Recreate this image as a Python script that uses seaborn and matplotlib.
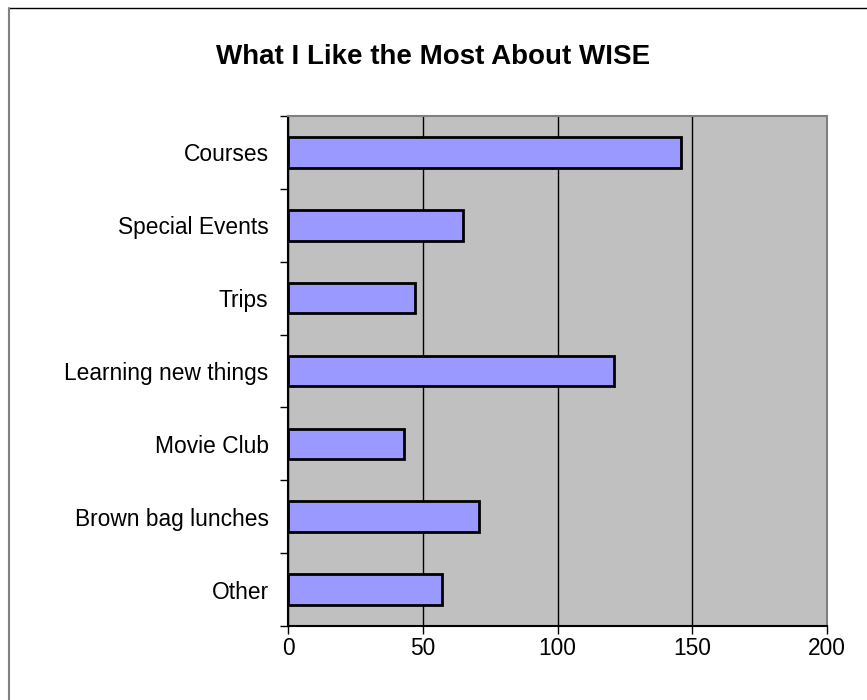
import matplotlib
matplotlib.use("Agg")
import matplotlib.pyplot as plt
import seaborn as sns
import pandas as pd
from matplotlib.lines import Line2D

categories = ["Courses", "Special Events", "Trips", "Learning new things",
              "Movie Club", "Brown bag lunches", "Other"]
counts = [146, 65, 47, 121, 43, 71, 57]
x_ticks = [0, 50, 100, 150, 200]

sns.set_style("white")
plt.rcParams['font.family'] = ['Liberation Sans', 'DejaVu Sans']
plt.rcParams['text.color'] = 'black'
plt.rcParams['xtick.color'] = 'black'
plt.rcParams['ytick.color'] = 'black'
plt.rcParams['axes.labelcolor'] = 'black'

df = pd.DataFrame({"category": categories, "count": counts})

fig = plt.figure(figsize=(8.67, 7), dpi=100)
ax = fig.add_axes([288 / 867, 1 - 626 / 700, (827 - 288) / 867, (626 - 116) / 700])

sns.barplot(data=df, x="count", y="category", orient="h", color="#9999FF",
            saturation=1, width=0.42, edgecolor="black", linewidth=2, ax=ax, zorder=3)

ax.set_facecolor("#C0C0C0")
ax.set_xlim(0, 200)
ax.set_ylim(len(categories) - 0.5, -0.5)
ax.set_xticks(x_ticks)
ax.set_xticklabels([str(t) for t in x_ticks], fontsize=16.4)
ax.xaxis.grid(True, color="black", linewidth=1, zorder=1)
ax.set_axisbelow(True)

# category labels at centres, tick marks at the boundaries
ax.set_yticks(range(len(categories)))
ax.set_yticklabels(categories, fontsize=16.4)
ax.tick_params(axis="y", length=0, pad=14)
ax.set_yticks([i - 0.5 for i in range(len(categories) + 1)], minor=True)
ax.tick_params(axis="y", which="minor", length=6, width=1, color="black", direction="out", left=True)
ax.tick_params(axis="x", length=6, width=1, color="black", direction="out", bottom=True, pad=2)

for side, sp in ax.spines.items():
    sp.set_color("#808080")
    sp.set_linewidth(1.5)
ax.spines["left"].set_color("black")
ax.spines["bottom"].set_color("black")

ax.set_xlabel("")
ax.set_ylabel("")

fig.text(0.5, 1 - 57 / 700, "What I Like the Most About WISE", ha="center", va="center",
         fontsize=20, fontweight="bold")

# chart-area border: only the top and left edges are inside the picture
fig.add_artist(Line2D([9 / 867, 1], [1 - 8 / 700, 1 - 8 / 700], transform=fig.transFigure,
                      color="black", linewidth=1))
fig.add_artist(Line2D([9 / 867, 9 / 867], [0, 1 - 8 / 700], transform=fig.transFigure,
                      color="#808080", linewidth=1.5))

fig.savefig("out.png", dpi=100)
